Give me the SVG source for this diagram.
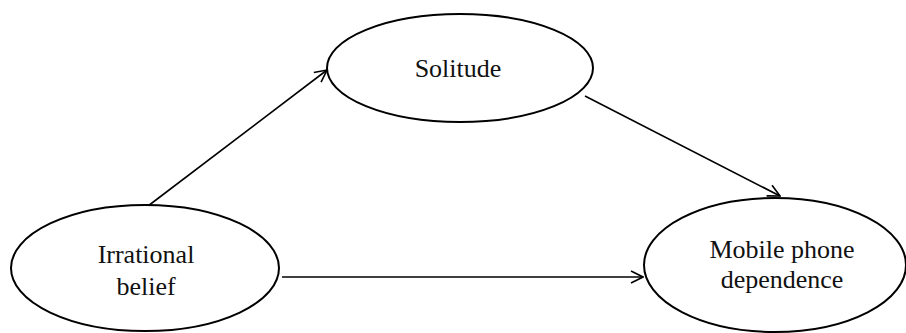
<svg xmlns="http://www.w3.org/2000/svg" width="906" height="333" viewBox="0 0 906 333">
<style>
.node ellipse{fill:#fff;stroke:#000;stroke-width:2}
.node text{font-family:"Liberation Serif","Times New Roman",serif;font-size:26px;fill:#111;text-anchor:middle}
.edge{stroke:#000;stroke-width:1.6;fill:none;marker-end:url(#arr)}
</style>
<defs>
<marker id="arr" viewBox="0 0 14 14" refX="13" refY="7" markerWidth="14" markerHeight="14" markerUnits="userSpaceOnUse" orient="auto">
<path d="M1,1 L13,7 L1,13" fill="none" stroke="#000" stroke-width="1.6"/>
</marker>
</defs>
<rect width="906" height="333" fill="#fff"/>
<g id="connectors">
<line class="edge" x1="148" y1="206" x2="327" y2="70"/>
<line class="edge" x1="585" y1="96" x2="780" y2="196"/>
<line class="edge" x1="282" y1="277" x2="643" y2="277"/>
</g>
<g id="irrational" class="node">
<ellipse cx="145" cy="268" rx="134" ry="63"/>
<text x="146" y="263">Irrational</text>
<text x="146" y="295">belief</text>
</g>
<g id="solitude" class="node">
<ellipse cx="460" cy="68" rx="133" ry="54"/>
<text x="458" y="77">Solitude</text>
</g>
<g id="mobile" class="node">
<ellipse cx="775" cy="265" rx="131" ry="67"/>
<text x="782" y="258">Mobile phone</text>
<text x="782" y="288">dependence</text>
</g>
</svg>
